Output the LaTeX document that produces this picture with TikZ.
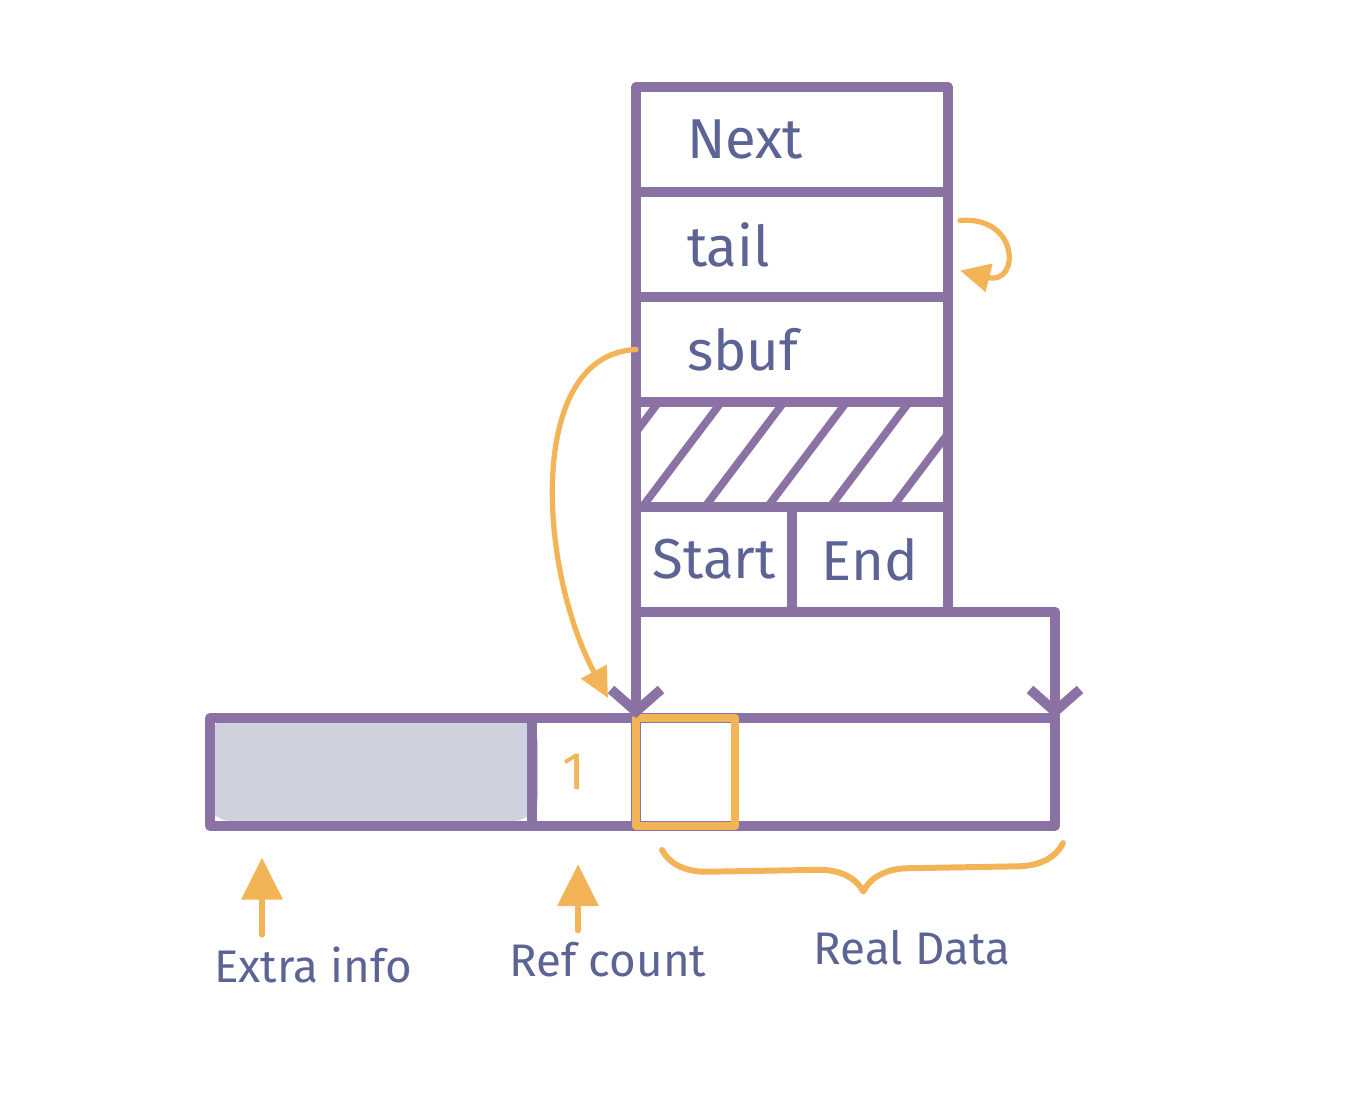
\documentclass[tikz,border=0pt]{standalone}
\usepackage{fontspec}
\setsansfont{Fira Sans}
\usetikzlibrary{positioning,arrows.meta,patterns.meta,decorations.pathreplacing,backgrounds}
\definecolor{cellline}{HTML}{8B72A5}
\definecolor{pen}{HTML}{F2B457}
\definecolor{ink}{HTML}{5C6395}
\definecolor{shadefill}{HTML}{CFD1DE}

\begin{document}
\begin{tikzpicture}[line join=round,line cap=round,
            cell/.style={draw=cellline,line width=2.8pt,rectangle,inner sep=0pt,outer sep=0pt,
                minimum width=3.12cm,minimum height=1.05cm,text=ink,font=\sffamily\fontsize{16}{19}\selectfont},
            field/.style={cell,text width=2.1cm,align=left},
            half/.style={cell,minimum width=1.56cm},
            tag/.style={text=ink,font=\sffamily\fontsize{13}{16}\selectfont},
            pen arrow/.style={draw=pen,line width=1.5pt,-{Triangle[length=0.3cm,width=0.28cm]}},
            up arrow/.style={draw=pen,line width=1.8pt,-{Triangle[length=0.42cm,width=0.4cm]}},
            side arrow/.style={draw=cellline,line width=2.8pt,-{Straight Barb[length=0.22cm,width=0.5cm]}},
            databrace/.style={draw=pen,line width=1.7pt,decorate,decoration={brace,mirror,amplitude=0.45cm}}]

        \useasboundingbox (0,0) rectangle (13.72,-11.10);

        % Define cells
        \node[field] (next) at (7.92,-1.395) {Next};
        \node[field] (tail) [below=0pt of next] {tail};
        \node[field] (sbuf) [below=0pt of tail] {sbuf};
        \node[cell,pattern={Lines[angle=53,distance=0.5cm,line width=2.2pt]},pattern color=cellline]
            (pad) [below=0pt of sbuf] {};
        \node[half] (start) [below right=0pt of pad.south west] {Start};
        \node[half] (end) [right=0pt of start] {End};
        \node[cell,minimum width=4.19cm,minimum height=1.06cm] (wide) [below right=0pt of start.south west] {};
        \node[cell,minimum width=4.19cm,minimum height=1.08cm] (data) [below right=0pt of wide.south west] {};
        \node[cell,minimum width=1.04cm,minimum height=1.08cm] (refcnt) [left=0pt of data] {};
        \node[cell,minimum width=3.22cm,minimum height=1.08cm] (extra) [left=0pt of refcnt] {};
        \node[draw=pen,line width=2.3pt,inner sep=0pt,outer sep=0pt,minimum width=0.99cm,minimum height=1.08cm]
            (first) [below right=0pt of data.north west] {};
        \node[text=pen,font=\sffamily\fontsize{15}{18}\selectfont] (count) at ([xshift=-0.1cm]refcnt) {1};

        \begin{scope}[on background layer]
            \node[fill=shadefill,rounded corners=0.25cm,minimum width=3.32cm,minimum height=1.02cm]
                (shade) at ([xshift=0.01cm,yshift=0.02cm]extra) {};
        \end{scope}

        % Labels
        \node[tag] (extratxt) at (3.13,-9.65) {Extra info};
        \node[tag] (reftxt) at (6.08,-9.60) {Ref count};
        \node[tag] (realtxt) at (9.12,-9.48) {Real Data};

        % Draw pointers
        \draw[side arrow] (wide.north west) -- (wide.south west);
        \draw[side arrow] (wide.north east) -- (wide.south east);
        \coordinate (sbuftip) at ([shift={(-0.28,0.2)}]data.north west);
        \draw[pen arrow] (sbuf.west) .. controls +(-1.1,-0.05) and +(-0.7,1.3) .. (sbuftip);
        \draw[pen arrow] ([shift={(0.12,0.24)}]tail.east) .. controls +(0.6,0.05) and +(0.6,-0.15) .. ([shift={(0.12,-0.26)}]tail.east);
        \draw[up arrow] ([xshift=-0.51cm]extratxt.north) -- ++(0,0.77);
        \draw[up arrow] ([xshift=-0.3cm]reftxt.north) -- ++(0,0.66);
        \draw[databrace] ([shift={(0.26,-0.24)}]data.south west) -- ([shift={(0.08,-0.17)}]data.south east);

        \end{tikzpicture}
\end{document}
